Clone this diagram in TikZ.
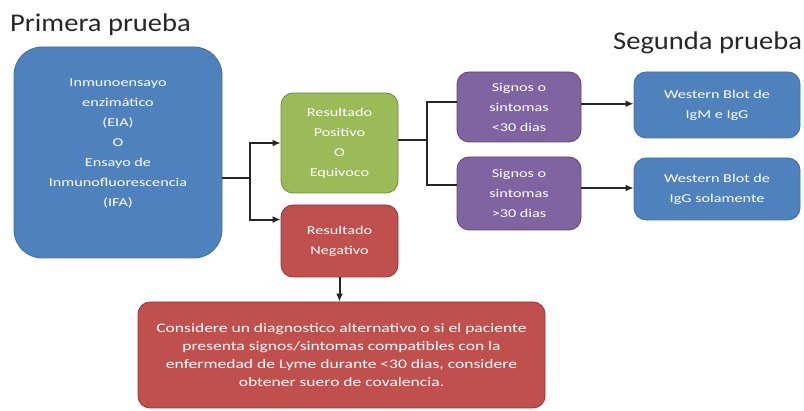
\documentclass[tikz,border=0pt]{standalone}
\usepackage{fontspec}
\usetikzlibrary{arrows.meta}
\newfontfamily\boxfont[FakeStretch=1.35]{Carlito}
\newfontfamily\titlefont[FakeStretch=1.12]{Carlito}
\definecolor{azulF}{HTML}{4F81BD}
\definecolor{azulD}{HTML}{41719C}
\definecolor{verdeF}{HTML}{9BBB59}
\definecolor{verdeD}{HTML}{71893F}
\definecolor{rojoF}{HTML}{C0504D}
\definecolor{rojoD}{HTML}{8C3836}
\definecolor{moradoF}{HTML}{8064A2}
\definecolor{moradoD}{HTML}{5C4776}
\definecolor{linea}{HTML}{262626}
\tikzset{
  caja/.style={draw, line width=0.8pt, rounded corners=12pt, text=white,
    align=center, inner sep=2pt, font={\boxfont\fontsize{12}{20}\selectfont}},
  cajaazul/.style={caja, fill=azulF, draw=azulD},
  cajaverde/.style={caja, fill=verdeF, draw=verdeD},
  cajaroja/.style={caja, fill=rojoF, draw=rojoD},
  cajamorada/.style={caja, fill=moradoF, draw=moradoD},
  titulo/.style={anchor=base west, inner sep=0pt, text=linea,
    font={\titlefont\fontsize{25.5}{30}\selectfont}},
  arr/.style={-{Latex[length=8pt,width=7pt]}}
}
\begin{document}
\begin{tikzpicture}[x=1pt,y=-1pt]
      \useasboundingbox (0,0) rectangle (804,411);
      \node[titulo] (t1) at (10,32) {Primera prueba};
      \node[titulo] (t2) at (613,50) {Segunda prueba};
      % primera prueba
      \node[cajaazul, rounded corners=28pt, minimum width=208pt, minimum height=211pt] (eia) at (118,152.5) {};
      \node[text=white, align=center, inner sep=0pt, font={\boxfont\fontsize{12}{20}\selectfont}] (eiatxt) at (118,143)
        {Inmunoensayo\\enzimático\\(EIA)\\O\\Ensayo de\\Inmunofluorescencia\\(IFA)};
      \node[cajaverde, minimum width=117pt, minimum height=100pt] (pos) at (339.5,143)
        {Resultado\\Positivo\\O\\Equivoco};
      \node[cajaroja, minimum width=117pt, minimum height=72pt] (neg) at (339.5,241)
        {Resultado\\Negativo};
      \node[cajamorada, minimum width=124pt, minimum height=70pt] (menos) at (519,107)
        {Signos o\\sintomas\\<30 dias};
      \node[cajamorada, minimum width=124pt, minimum height=73pt] (mas) at (519,193.5)
        {Signos o\\sintomas\\>30 dias};
      % segunda prueba
      \node[cajaazul, minimum width=166pt, minimum height=66pt] (wbigm) at (717,105)
        {Western Blot de\\IgM e IgG};
      \node[cajaazul, minimum width=166pt, minimum height=62pt] (wbigg) at (717,189)
        {Western Blot de\\IgG solamente};
      \node[cajaroja, minimum width=407pt, minimum height=106pt,
        font={\boxfont\fontsize{13}{18}\selectfont}] (alt) at (341.5,355)
        {Considere un diagnostico alternativo o si el paciente\\
         presenta signos/sintomas compatibles con la\\
         enfermedad de Lyme durante <30 dias, considere\\
         obtener suero de covalencia.};
      \coordinate (j1) at (250,178);
      \coordinate (j2) at (427,140);
      \begin{scope}[draw=linea, line width=2pt]
        \draw (eia.east |- j1) -- (j1);
        \draw[arr] (j1) |- (pos.west);
        \draw[arr] (j1) |- (neg.160);
        \draw (pos.east |- j2) -- (j2);
        \draw (j2) |- (menos.175);
        \draw (j2) |- (mas.172);
        \draw[arr] (menos.3) -- (menos.3 -| wbigm.west);
        \draw[arr] (mas.5) -- (mas.5 -| wbigg.west);
        \draw[arr] (neg.south) -- (neg.south |- alt.north);
      \end{scope}
    \end{tikzpicture}
\end{document}
